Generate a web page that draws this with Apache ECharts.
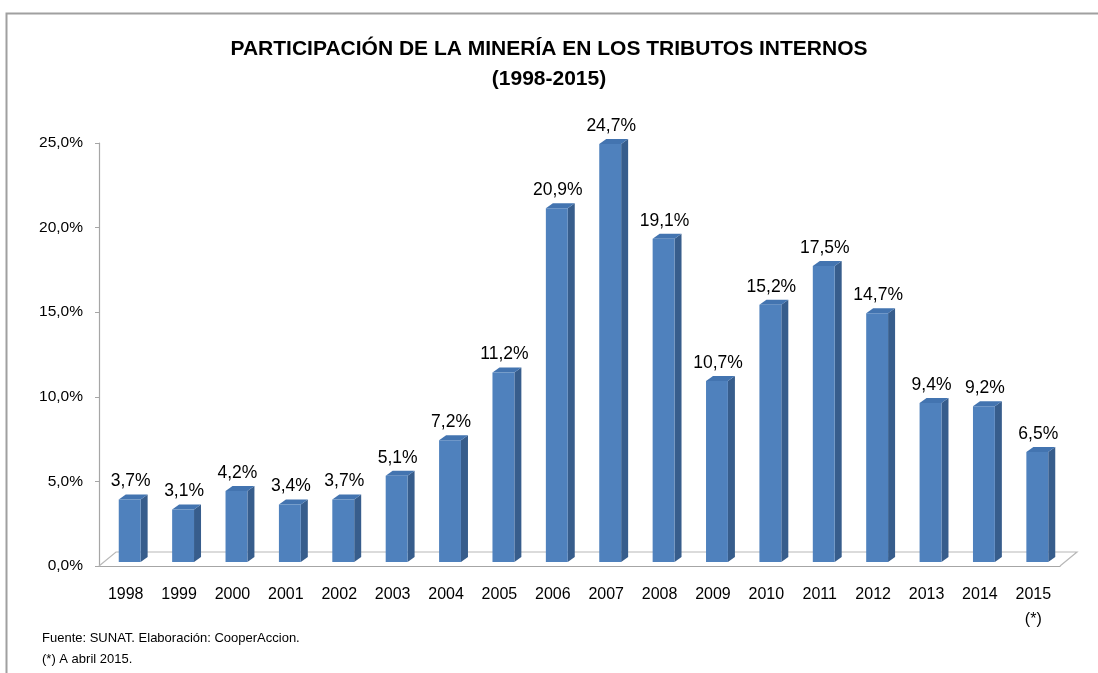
<!DOCTYPE html>
<html>
<head>
<meta charset="utf-8">
<script src="https://cdn.jsdelivr.net/npm/echarts@6/dist/echarts.min.js"></script>
<style>
    html, body {margin: 0; padding: 0; background: #fff;}
    #mineriaDiv {width: 1098px; height: 673px;}
</style>
</head>
<body>
<div id="mineriaDiv"></div>
<script>
    var years = ['1998', '1999', '2000', '2001', '2002', '2003', '2004', '2005', '2006',
        '2007', '2008', '2009', '2010', '2011', '2012', '2013', '2014', '2015\n(*)'];
    var participacion = [3.7, 3.1, 4.2, 3.4, 3.7, 5.1, 7.2, 11.2, 20.9,
        24.7, 19.1, 10.7, 15.2, 17.5, 14.7, 9.4, 9.2, 6.5];
    var yTicks = [0, 5, 10, 15, 20, 25];

    var baseFont = 'Liberation Sans, Arial, sans-serif';

    function pct(v) {
        return v.toFixed(1).replace('.', ',') + '%';
    }

    // 3d look: bars sit a little behind the front edge of the floor
    var depthX = 7, depthY = 5, shiftX = 4, shiftY = 4;

    function renderBar(params, api) {
        var base = api.coord([api.value(0), 0]);
        var top = api.coord([api.value(0), api.value(1)]);
        var band = api.size([1, 0])[0];
        var w = band * 0.41;
        var cx = base[0] + shiftX;
        var by = base[1] - shiftY;
        var ty = top[1] - shiftY;
        var l = cx - w / 2, r = cx + w / 2;
        return {
            type: 'group',
            children: [
                {
                    type: 'polygon',
                    shape: {points: [[r, ty], [r + depthX, ty - depthY], [r + depthX, by - depthY], [r, by]]},
                    style: {fill: '#375d8c'}
                },
                {
                    type: 'polygon',
                    shape: {points: [[l, ty], [l + depthX, ty - depthY], [r + depthX, ty - depthY], [r, ty]]},
                    style: {fill: '#4374b0'}
                },
                {
                    type: 'rect',
                    shape: {x: l, y: ty, width: w, height: by - ty},
                    style: {fill: '#4f81bd'}
                },
                {
                    type: 'text',
                    x: cx + 1,
                    y: ty - depthY - 4,
                    style: {
                        text: pct(api.value(1)),
                        font: '17.5px ' + baseFont,
                        fill: '#000',
                        align: 'center',
                        verticalAlign: 'bottom'
                    }
                }
            ]
        };
    }

    function renderFloor(params, api) {
        var g = params.coordSys;
        var x0 = g.x, x1 = g.x + g.width, y = g.y + g.height;
        return {
            type: 'polyline',
            shape: {points: [[x0, y], [x0 + 17, y - 14], [x1 + 17, y - 14], [x1, y]]},
            style: {stroke: '#b8b8b8', lineWidth: 1.2, fill: null}
        };
    }

    var chart = echarts.init(document.getElementById('mineriaDiv'));
    var option = {
        animation: false,
        title: {
            text: 'PARTICIPACIÓN DE LA MINERÍA EN LOS TRIBUTOS INTERNOS\n(1998-2015)',
            left: 'center',
            top: 29,
            textStyle: {
                fontFamily: baseFont,
                fontWeight: 'bold', fontSize: 21, lineHeight: 30, color: '#000'
            }
        },
        grid: {left: 99, right: 38, top: 143, bottom: 107},
        xAxis: {
            type: 'category',
            data: years,
            axisLine: {lineStyle: {color: '#a6a6a6', width: 1.2}},
            axisTick: {length: 6, lineStyle: {color: '#a6a6a6'}},
            axisLabel: {
                fontFamily: baseFont, fontSize: 16, color: '#000',
                margin: 16, lineHeight: 25, interval: 0
            }
        },
        yAxis: {
            type: 'value',
            min: yTicks[0],
            max: yTicks[yTicks.length - 1],
            interval: 5,
            axisLine: {show: true, lineStyle: {color: '#a6a6a6', width: 1.2}},
            axisTick: {show: true, length: 4, lineStyle: {color: '#a6a6a6'}},
            splitLine: {show: false},
            axisLabel: {
                fontFamily: baseFont, fontSize: 15.5, color: '#000', margin: 16,
                formatter: function (v) {
                    return pct(v);
                }
            }
        },
        graphic: [
            {
                type: 'polyline',
                shape: {points: [[6.5, 673], [6.5, 13.5], [1098, 13.5]]},
                style: {stroke: '#a0a0a0', lineWidth: 2, fill: null}
            },
            {
                type: 'text',
                left: 42,
                top: 628,
                style: {
                    text: 'Fuente: SUNAT. Elaboración: CooperAccion.\n(*) A abril 2015.',
                    font: '13px ' + baseFont,
                    lineHeight: 21,
                    fill: '#000'
                }
            }
        ],
        series: [
            {
                type: 'custom',
                renderItem: renderFloor,
                data: [0],
                z: 1,
                silent: true
            },
            {
                type: 'custom',
                renderItem: renderBar,
                data: participacion.map(function (v, i) {
                    return [i, v];
                }),
                encode: {x: 0, y: 1},
                z: 2
            }
        ]
    };
    chart.setOption(option);
</script>
</body>
</html>
